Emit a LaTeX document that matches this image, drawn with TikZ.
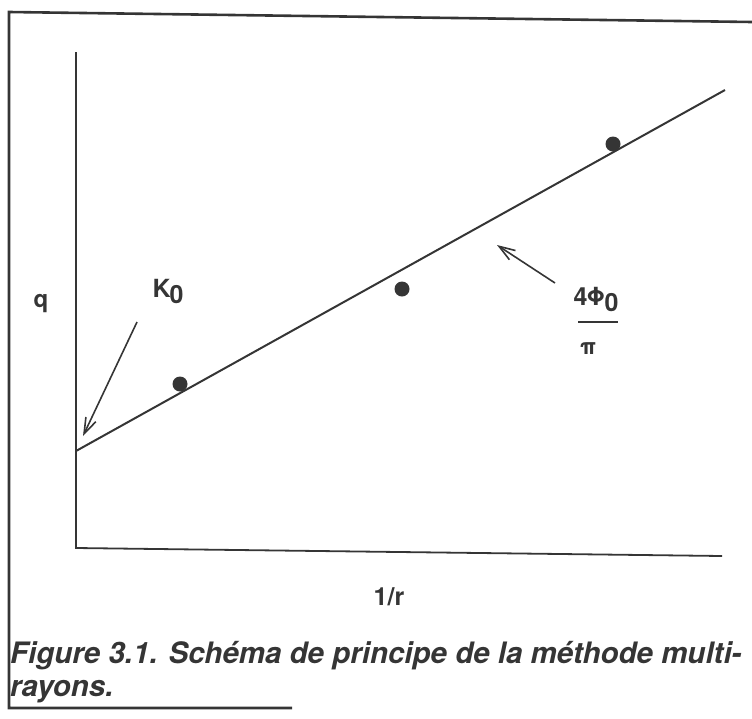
\documentclass[tikz,border=0pt]{standalone}
\usepackage{fontspec}
\setmainfont{TeX Gyre Heros}
\usetikzlibrary{positioning, arrows.meta}
\definecolor{ink}{HTML}{353535}
\tikzset{
	axis/.style={
		draw=ink,
		line width=1.8pt,
	},
	frame/.style={
		draw=ink,
		line width=2.6pt,
	},
	fit/.style={
		draw=ink,
		line width=2pt,
	},
	mesure/.style={
		circle,
		fill=ink,
		inner sep=0pt,
		minimum size=15pt,
	},
	pointer/.style={
		draw=ink,
		line width=1.6pt,
		-{Straight Barb[length=16pt,width=11pt,line width=1.6pt]},
	},
	lbl/.style={
		text=ink,
		font=\fontsize{22}{26}\selectfont\bfseries,
		inner sep=0pt,
	},
}

\begin{document}
\begin{tikzpicture}[x=1pt, y=-1pt]
		\useasboundingbox (0,0) rectangle (752,718);
		
		% cadre
		\coordinate (ftr) at (752,22);
		\coordinate (ftl) at (9,12);
		\coordinate (fbl) at (9,708);
		\coordinate (fbr) at (292,708);
		\draw [frame] (ftr) -- (ftl) -- (fbl) -- (fbr);
		
		% axes
		\coordinate (ytop) at (76,52);
		\coordinate (orig) at (76,548);
		\coordinate (xend) at (722,556);
		\draw [axis] (ytop) -- (orig) -- (xend);
		\node [lbl, font=\fontsize{24}{28}\selectfont\bfseries] (q) at (41,304) {q};
		\node [lbl, font=\fontsize{25}{28}\selectfont\bfseries] (invr) at (389,597) {1/r};
		
		% droite et mesures
		\coordinate (l0) at (76,451);
		\coordinate (l1) at (725,90);
		\draw [fit] (l0) -- (l1);
		\node [mesure] (m1) at (180,384) {};
		\node [mesure] (m2) at (402,289) {};
		\node [mesure] (m3) at (613,144) {};
		
		% ordonnee a l'origine
		\node [lbl, font=\fontsize{25}{30}\selectfont\bfseries] (k0) at (168,291) {K\kern-1pt\raisebox{-6pt}{0}};
		\coordinate (k0a) at (137,322);
		\coordinate (k0b) at (83,436);
		\draw [pointer] (k0a) -- (k0b);
		
		% pente
		\node [lbl, font=\fontsize{25}{28}\selectfont\bfseries] (num) at (596,299) {4\kern-1ptΦ\kern-1pt\raisebox{-6pt}{0}};
		\coordinate (barl) at (578,322);
		\coordinate (barr) at (618,322);
		\draw [draw=ink, line width=2pt] (barl) -- (barr);
		\node [lbl, font=\fontsize{22}{24}\selectfont\bfseries] (pi) at (588,349) {π};
		\coordinate (pa) at (555,283);
		\coordinate (pb) at (497,245);
		\draw [pointer] (pa) -- (pb);
		
		% legende
		\node [lbl, font=\fontsize{29.5}{33}\selectfont\bfseries\itshape, anchor=north west, align=left] (cap) at (10,641) {Figure 3.1. Schéma de principe de la méthode multi-\\rayons.};
	\end{tikzpicture}
\end{document}
